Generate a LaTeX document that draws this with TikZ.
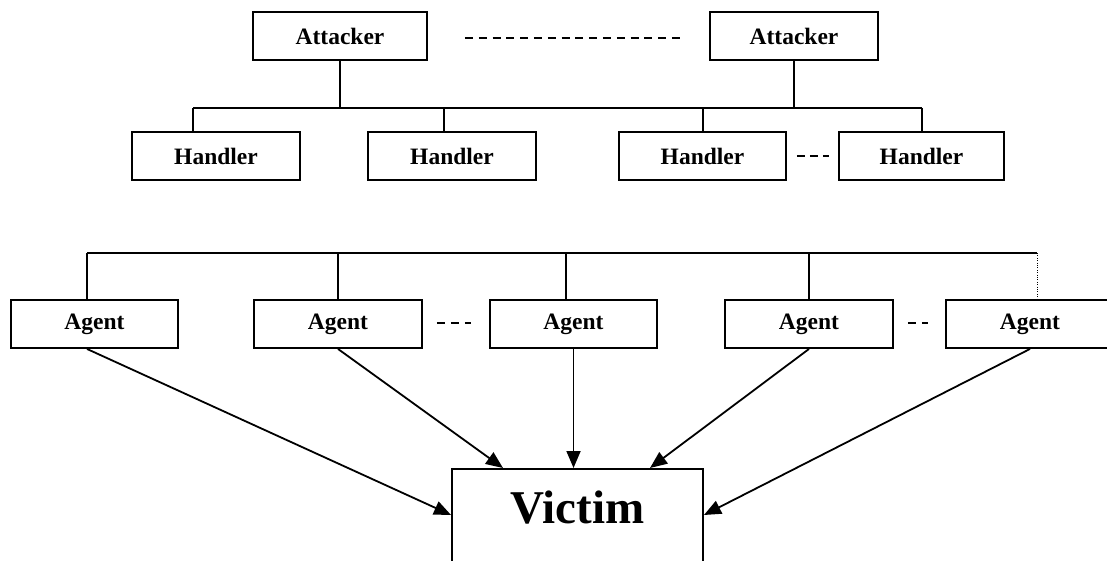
\documentclass[tikz,border=0pt]{standalone}
\usepackage{fontspec}
\setmainfont{Liberation Serif}
\usetikzlibrary{arrows.meta,calc}
\begin{document}
\begin{tikzpicture}[x=1pt,y=-1pt,
  wire/.style={line width=1.9pt},
  box/.style={draw, line width=1.9pt, rectangle, inner sep=0pt,
    minimum height=48pt, font=\bfseries\fontsize{23.5}{26}\selectfont},
  gap/.style={line width=1.6pt, dash pattern=on 8pt off 5.8pt},
  faint/.style={line width=1pt, dash pattern=on 1pt off 1.4pt},
  hit/.style={line width=1.8pt, -{Triangle[length=17pt,width=14pt]}}]
\useasboundingbox (0,0) rectangle (1107,561);
\clip (0,0) rectangle (1107,561);

% attackers
\node[box, minimum width=174pt] (att1) at (340,36) {Attacker};
\node[box, minimum width=168pt] (att2) at (794,36) {Attacker};

% handlers
\node[box, minimum width=168pt] (h1) at (216,156) {Handler};
\node[box, minimum width=168pt] (h2) at (452,156) {Handler};
\node[box, minimum width=167pt] (h3) at (702.5,156) {Handler};
\node[box, minimum width=165pt] (h4) at (921.5,156) {Handler};

% agents
\node[box, minimum width=167pt] (a1) at (94.5,324) {Agent};
\node[box, minimum width=168pt] (a2) at (338,324) {Agent};
\node[box, minimum width=167pt] (a3) at (573.5,324) {Agent};
\node[box, minimum width=168pt] (a4) at (809,324) {Agent};
\node[box, minimum width=168pt] (a5) at (1030,324) {Agent};

% victim (runs past the lower edge)
\node[draw, line width=1.9pt, rectangle, anchor=north, inner xsep=0pt, inner ysep=0pt,
  minimum width=251pt, text height=55pt, text depth=80pt,
  font=\bfseries\fontsize{47}{50}\selectfont] (victim) at (577.5,468) {Victim};

% attacker-handler bus
\coordinate (j1) at (193,108);
\coordinate (j2) at (444,108);
\coordinate (j3) at (703,108);
\coordinate (j4) at (922,108);
\draw[wire] (j1) -- (j4);
\draw[wire] (att1.south) -- (att1.south |- j1);
\draw[wire] (att2.south) -- (att2.south |- j1);
\draw[wire] (j1) -- (j1 |- h1.north);
\draw[wire] (j2) -- (j2 |- h2.north);
\draw[wire] (j3) -- (j3 |- h3.north);
\draw[wire] (j4) -- (j4 |- h4.north);

% agent bus
\coordinate (k1) at (87,253);
\coordinate (k2) at (338,253);
\coordinate (k3) at (566,253);
\coordinate (k4) at (809,253);
\coordinate (k5) at (1037,253);
\draw[wire] (k1) -- (k5);
\draw[wire] (k1) -- (k1 |- a1.north);
\draw[wire] (k2) -- (k2 |- a2.north);
\draw[wire] (k3) -- (k3 |- a3.north);
\draw[wire] (k4) -- (k4 |- a4.north);
\draw[faint] (k5) -- (k5 |- a5.north);

% "and so on" gaps
\draw[gap] ($(att1.east)+(37,2)$) -- ($(att2.west)+(-29,2)$);
\draw[gap, dash pattern=on 8pt off 5pt] ($(h3.east)+(10,0)$) -- ($(h4.west)+(-9,0)$);
\draw[gap, dash pattern=on 8pt off 6pt] ($(a2.east)+(14,-1)$) -- ($(a3.west)+(-18,-1)$);
\draw[gap, dash pattern=on 8pt off 6pt] ($(a4.east)+(14,-1)$) -- ($(a5.west)+(-17,-1)$);

% attacks on the victim
\draw[hit] ($(a1.south)+(-7.5,0)$) -- ($(victim.north west)+(0,47)$);
\draw[hit] (a2.south) -- ($(victim.north)+(-74.5,0)$);
\draw[hit] (a3.south) -- (a3.south |- victim.north);
\draw[hit] (a4.south) -- ($(victim.north)+(72.5,0)$);
\draw[hit] (a5.south) -- ($(victim.north east)+(0,47)$);
\end{tikzpicture}
\end{document}
